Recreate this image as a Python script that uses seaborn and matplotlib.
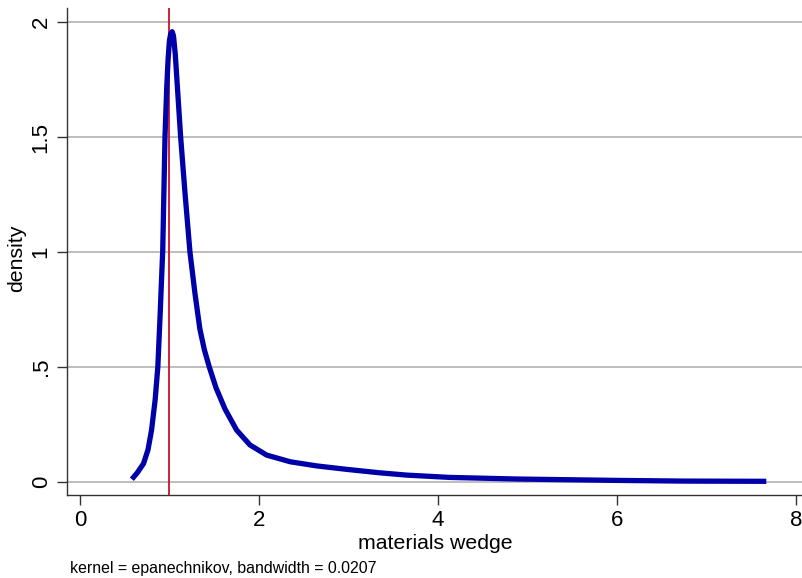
import matplotlib
matplotlib.use("Agg")
import matplotlib.pyplot as plt
import seaborn as sns
import pandas as pd

# Kernel density estimate of the materials wedge (evaluation grid and density)
wedge = [0.58, 0.64, 0.71, 0.76, 0.80, 0.84, 0.87, 0.895, 0.925, 0.95, 0.97,
         0.985, 1.00, 1.015, 1.03, 1.045, 1.065, 1.09, 1.125, 1.173, 1.229,
         1.285, 1.34, 1.39, 1.445, 1.52, 1.62, 1.75, 1.90, 2.086, 2.35, 2.645,
         2.98, 3.35, 3.65, 4.13, 4.88, 6.0, 6.74, 7.67]
density = [0.012, 0.04, 0.08, 0.14, 0.226, 0.357, 0.50, 0.72, 1.01, 1.50, 1.72,
           1.84, 1.92, 1.95, 1.958, 1.94, 1.86, 1.71, 1.50, 1.26, 1.0,
           0.82, 0.665, 0.575, 0.50, 0.41, 0.318, 0.226, 0.161, 0.117, 0.088,
           0.070, 0.055, 0.040, 0.030, 0.020, 0.013, 0.007, 0.004, 0.003]
reference_x = 1.0
x_ticks = [0, 2, 4, 6, 8]
y_ticks = [0, 0.5, 1, 1.5, 2]
y_tick_labels = ["0", ".5", "1", "1.5", "2"]
note = "kernel = epanechnikov, bandwidth = 0.0207"

df = pd.DataFrame({"wedge": wedge, "density": density})

sns.set_style("white")
plt.rcParams["font.family"] = ["Liberation Sans", "DejaVu Sans"]
plt.rcParams["text.color"] = "black"
plt.rcParams["axes.labelcolor"] = "black"
plt.rcParams["xtick.color"] = "black"
plt.rcParams["ytick.color"] = "black"

fig = plt.figure(figsize=(8.03, 5.78), dpi=100)
ax = fig.add_axes([67 / 803, (578 - 495) / 578, (803 - 67) / 803, (495 - 8) / 578])

ax.set_xlim(-0.145, 8.08)
ax.set_ylim(-0.0565, 2.061)

for yt in y_ticks:
    ax.axhline(yt, color="#bebebe", lw=1.4, zorder=0)

ax.axvline(reference_x, color="#c8102e", lw=1.3, zorder=3)
sns.lineplot(data=df, x="wedge", y="density", ax=ax, color="#0000a8",
             lw=3.8, zorder=4, solid_capstyle="butt", solid_joinstyle="round")

ax.set_xticks(x_ticks)
ax.set_xticklabels([str(t) for t in x_ticks], fontsize=16)
ax.set_yticks(y_ticks)
ax.set_yticklabels(y_tick_labels, fontsize=16, rotation=90, va="center")
ax.tick_params(axis="both", direction="out", length=7, width=1, color="#333333",
               pad=4)
ax.tick_params(axis="both", which="both", bottom=True, left=True)

for side in ["top", "right"]:
    ax.spines[side].set_visible(False)
for side in ["left", "bottom"]:
    ax.spines[side].set_color("#333333")
    ax.spines[side].set_linewidth(1.0)

ax.set_xlabel("materials wedge", fontsize=15.3, labelpad=2)
ax.set_ylabel("density", fontsize=15.3)
ax.yaxis.set_label_coords(-0.056, 0.487)

fig.text(70 / 803, 1 - 568 / 578, note, fontsize=11.4, ha="left", va="center")

fig.savefig("out.png", dpi=100)
